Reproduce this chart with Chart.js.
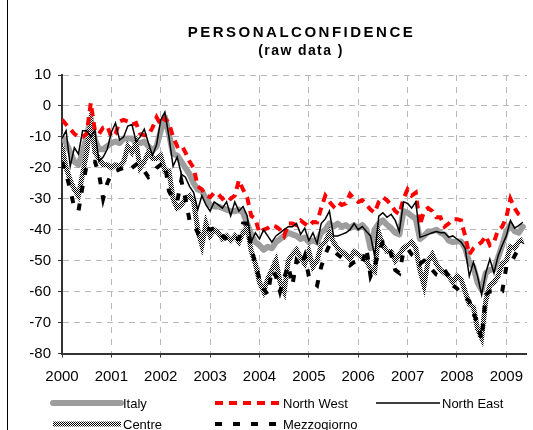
<!DOCTYPE html>
<html>
<head>
<meta charset="utf-8">
<script src="https://cdn.jsdelivr.net/npm/chart.js@4.4.1/dist/chart.umd.min.js"></script>
<style>
    html, body { margin: 0; padding: 0; background: #fff; }
    canvas { display: block; }
</style>
</head>
<body>
<canvas id="confidenceChart" width="533" height="430"></canvas>
<script>
// Monthly personal confidence balances, Jan 2000 onwards
const years = ['2000', '2001', '2002', '2003', '2004', '2005', '2006', '2007', '2008', '2009'];
const titleLines = ['PERSONALCONFIDENCE', '(raw data )'];

const italy = [
    -10, -12, -15, -18, -19, -15, -10, -4, -11, -14, -14, -13,
    -12, -11.5, -12, -10.5, -10.5, -10.5, -12, -12, -11.5, -13, -14.5, -13,
    -8, -3.5, -9, -15.5, -16, -18, -20, -22, -25, -27, -27.5, -30,
    -32, -32.5, -32.5, -33, -33.5, -34, -34, -33.5, -34.5, -38, -41.5, -44,
    -45, -46.5, -45.5, -46, -44, -43, -42, -41, -41.5, -42, -43, -42.5,
    -44, -43.5, -44, -41, -40, -38, -39, -38, -39, -38.5, -39.5, -38.5,
    -39.5, -38.5, -40, -46, -40, -38, -37, -38.4, -39.5, -41, -41.5, -34,
    -34.5, -35.5, -36.5, -43, -42, -40.6, -40.5, -40, -41, -41.6, -43.5, -44,
    -43.8, -43.8, -46, -50.6, -52, -57, -59.5, -54, -53, -52.8, -49, -45,
    -40.5, -38.4, -40.5, -41, -39
];

const northWest = [
    -4.4, -6, -7.5, -9, -10, -10, -9, 1, -8, -9, -7, -6.5,
    -10, -9, -5, -4.5, -5, -6, -5.5, -9, -9.5, -9.5, -7, -3.7,
    -6, -4, -5.5, -10, -13, -12.5, -15, -18, -20, -26, -27, -29,
    -29.5, -28, -28.5, -30, -29, -30, -29, -24, -27, -29.5, -35.5, -36.5,
    -41, -40, -39.5, -38.5, -39, -40, -42, -38, -38, -38.5, -37, -38,
    -39, -37.5, -37.6, -33, -29, -31, -32.5, -31, -32, -31.5, -28.5, -30,
    -31, -30.5, -32, -33.5, -34.5, -31, -29.5, -30.5, -32, -34, -35, -30,
    -27, -29, -28, -38.5, -34, -33, -34, -36, -36, -39, -38, -36.6,
    -36.6, -37, -42, -48, -46, -45, -44, -42, -45, -44, -40, -39,
    -36, -30, -33, -35, -36
];

const northEast = [
    -10.5, -8, -19.5, -13.5, -15.5, -8, -8, -10, -8, -18, -16.5, -14,
    -8.5, -5.5, -11, -10, -6.5, -6, -11.5, -10, -7.5, -12, -16, -12.5,
    -4.5, -2, -10, -19.5, -16.5, -22, -23, -26, -28, -33.5, -29, -32,
    -34, -31, -32, -33, -31, -35.5, -31, -34, -32.5, -35.5, -44, -41,
    -43, -40, -42, -44, -42, -41, -40, -39, -39, -38, -41.5, -39.5,
    -43.5, -41, -44.5, -38, -36.5, -34, -42, -42, -41.5, -41, -40, -38,
    -40, -39, -40.6, -42, -48.5, -35.6, -34.5, -36, -35, -37, -40.6, -31,
    -31.5, -33, -31, -42.4, -42, -41.5, -41, -40.6, -41, -41, -42.4, -42,
    -43, -44, -46, -55, -50.5, -55, -61, -54, -49.5, -54, -48.5, -45,
    -42, -37, -39.5, -38.7, -37.6
];

const centre = [
    -13, -20, -24, -27, -29, -22, -15, -5, -15, -17, -19, -19,
    -20, -19, -19.5, -18, -13, -15, -12, -20, -18, -15, -17, -17,
    -16, -21, -21, -30, -33, -32, -30, -29, -31, -40, -45, -38,
    -42, -40, -41, -43, -42, -43.5, -42, -44, -41, -39, -47, -51,
    -57, -60, -56, -53, -50, -57, -60, -50, -48, -46.5, -49, -51,
    -47, -52, -50, -45, -44, -41, -44, -46, -47, -48, -49.5, -47,
    -48, -49, -50, -52.6, -53.5, -41, -45, -47, -47, -50, -48, -46,
    -45, -44, -46, -53, -58, -50, -48, -51, -53, -54, -55, -57,
    -55, -56, -60, -64, -65, -72, -75, -63, -58, -57, -55, -51,
    -50, -45.5, -46, -44, -43
];

const mezzogiorno = [
    -18, -22, -27, -33, -34, -26, -19, -18, -18, -22, -30, -25,
    -22, -21, -20.5, -20, -21, -20, -19, -21, -21, -23, -22, -20,
    -19, -18.5, -27.5, -30, -31, -24, -30, -37, -38, -41, -39, -39.5,
    -40, -39.5, -40, -42, -43, -44, -43, -43, -38, -38, -46, -51,
    -56, -59, -61, -53, -55, -60, -55.5, -51.5, -58, -50, -52, -48.5,
    -55, -57, -58, -52, -48, -45, -46.5, -48, -49, -50, -51.5, -50.5,
    -50, -51, -46, -55, -52, -47, -44, -44.5, -48, -53, -54, -47,
    -46, -48, -49, -51, -50, -51, -53, -54.5, -55, -53, -55, -58,
    -59, -60.5, -62, -63, -67, -70, -75.5, -61, -60, -60, -60.5, -60,
    -52, -51, -48.5, -46, -44
];

const FONT = '"Liberation Sans", Arial, sans-serif';

// dithered black/white pattern used by the Centre line
function checkerPattern() {
    const c = document.createElement('canvas');
    c.width = 2;
    c.height = 2;
    const g = c.getContext('2d');
    g.fillStyle = '#ffffff';
    g.fillRect(0, 0, 2, 2);
    g.fillStyle = '#000000';
    g.fillRect(0, 0, 1, 1);
    g.fillRect(1, 1, 1, 1);
    return g.createPattern(c, 'repeat');
}

const toPoints = arr => arr.map((v, i) => ({ x: i, y: v }));

// title, frame line and the two-row legend below the plot
const decorPlugin = {
    id: 'decor',
    afterDraw(chart) {
        const ctx = chart.ctx;
        ctx.save();

        ctx.strokeStyle = '#000';
        ctx.lineWidth = 1;
        ctx.beginPath();
        ctx.moveTo(7.5, 0);
        ctx.lineTo(7.5, 430);
        ctx.stroke();

        ctx.fillStyle = '#000';
        ctx.textAlign = 'center';
        ctx.textBaseline = 'alphabetic';
        ctx.font = 'bold 15px ' + FONT;
        ctx.letterSpacing = '2.5px';
        ctx.fillText(titleLines[0], 301.5, 37);
        ctx.font = 'bold 14px ' + FONT;
        ctx.letterSpacing = '1.4px';
        ctx.fillText(titleLines[1], 301, 55);
        ctx.letterSpacing = '0px';

        const entries = [
            { ds: 0, x0: 53, x1: 121, y: 403 },
            { ds: 1, x0: 215, x1: 281, y: 403 },
            { ds: 2, x0: 376, x1: 440, y: 403 },
            { ds: 3, x0: 53, x1: 121, y: 424 },
            { ds: 4, x0: 215, x1: 281, y: 424 }
        ];
        ctx.textAlign = 'left';
        ctx.textBaseline = 'middle';
        ctx.font = '13px ' + FONT;
        entries.forEach(e => {
            const ds = chart.data.datasets[e.ds];
            ctx.save();
            ctx.strokeStyle = ds.borderColor;
            ctx.lineWidth = ds.borderWidth;
            ctx.lineCap = ds.borderCapStyle || 'butt';
            ctx.setLineDash(ds.borderDash || []);
            ctx.beginPath();
            ctx.moveTo(e.x0, e.y);
            ctx.lineTo(e.x1, e.y);
            ctx.stroke();
            ctx.restore();
            ctx.fillStyle = '#000';
            ctx.fillText(ds.label, e.x1 + 2, e.y + 1);
        });
        ctx.restore();
    }
};

const ctx = document.getElementById('confidenceChart').getContext('2d');
new Chart(ctx, {
    type: 'line',
    data: {
        datasets: [
            {
                label: 'Italy',
                data: toPoints(italy),
                borderColor: '#9d9d9d',
                borderWidth: 6,
                borderCapStyle: 'round',
                borderJoinStyle: 'round',
                order: 5
            },
            {
                label: 'North West',
                data: toPoints(northWest),
                borderColor: '#ff0000',
                borderWidth: 4,
                borderDash: [8, 6],
                order: 2
            },
            {
                label: 'North East',
                data: toPoints(northEast),
                borderColor: '#000000',
                borderWidth: 1.5,
                order: 1
            },
            {
                label: 'Centre',
                data: toPoints(centre),
                borderColor: checkerPattern(),
                borderWidth: 5,
                order: 4
            },
            {
                label: 'Mezzogiorno',
                data: toPoints(mezzogiorno),
                borderColor: '#000000',
                borderWidth: 4,
                borderDash: [7, 11],
                order: 3
            }
        ]
    },
    options: {
        responsive: false,
        maintainAspectRatio: false,
        animation: false,
        devicePixelRatio: 1,
        layout: { padding: { top: 75, right: 0, bottom: 0, left: 0 } },
        elements: {
            point: { radius: 0 },
            line: { tension: 0, fill: false }
        },
        plugins: {
            legend: { display: false },
            title: { display: false },
            tooltip: { enabled: false }
        },
        scales: {
            x: {
                type: 'linear',
                min: 0,
                max: 113,
                afterFit(scale) { scale.height = 76.5; },
                afterBuildTicks(scale) {
                    scale.ticks = years.map((y, i) => ({ value: i * 12 }));
                },
                ticks: {
                    autoSkip: false,
                    maxRotation: 0,
                    padding: 10,
                    color: '#000',
                    font: { family: FONT, size: 15 },
                    callback: value => years[value / 12]
                },
                grid: {
                    color: '#b8b8b8',
                    lineWidth: 1,
                    tickLength: 4,
                    tickColor: '#333',
                    tickWidth: 1
                },
                border: { display: true, color: '#333', width: 2, dash: [6, 6] }
            },
            y: {
                min: -80,
                max: 10,
                afterFit(scale) { scale.width = 62; },
                ticks: {
                    stepSize: 10,
                    padding: 7,
                    color: '#000',
                    font: { family: FONT, size: 15 }
                },
                grid: {
                    color: '#b8b8b8',
                    lineWidth: 1,
                    tickLength: 4,
                    tickColor: '#333',
                    tickWidth: 1
                },
                border: { display: true, color: '#333', width: 2, dash: [6, 5] }
            }
        }
    },
    plugins: [decorPlugin]
});
</script>
</body>
</html>
